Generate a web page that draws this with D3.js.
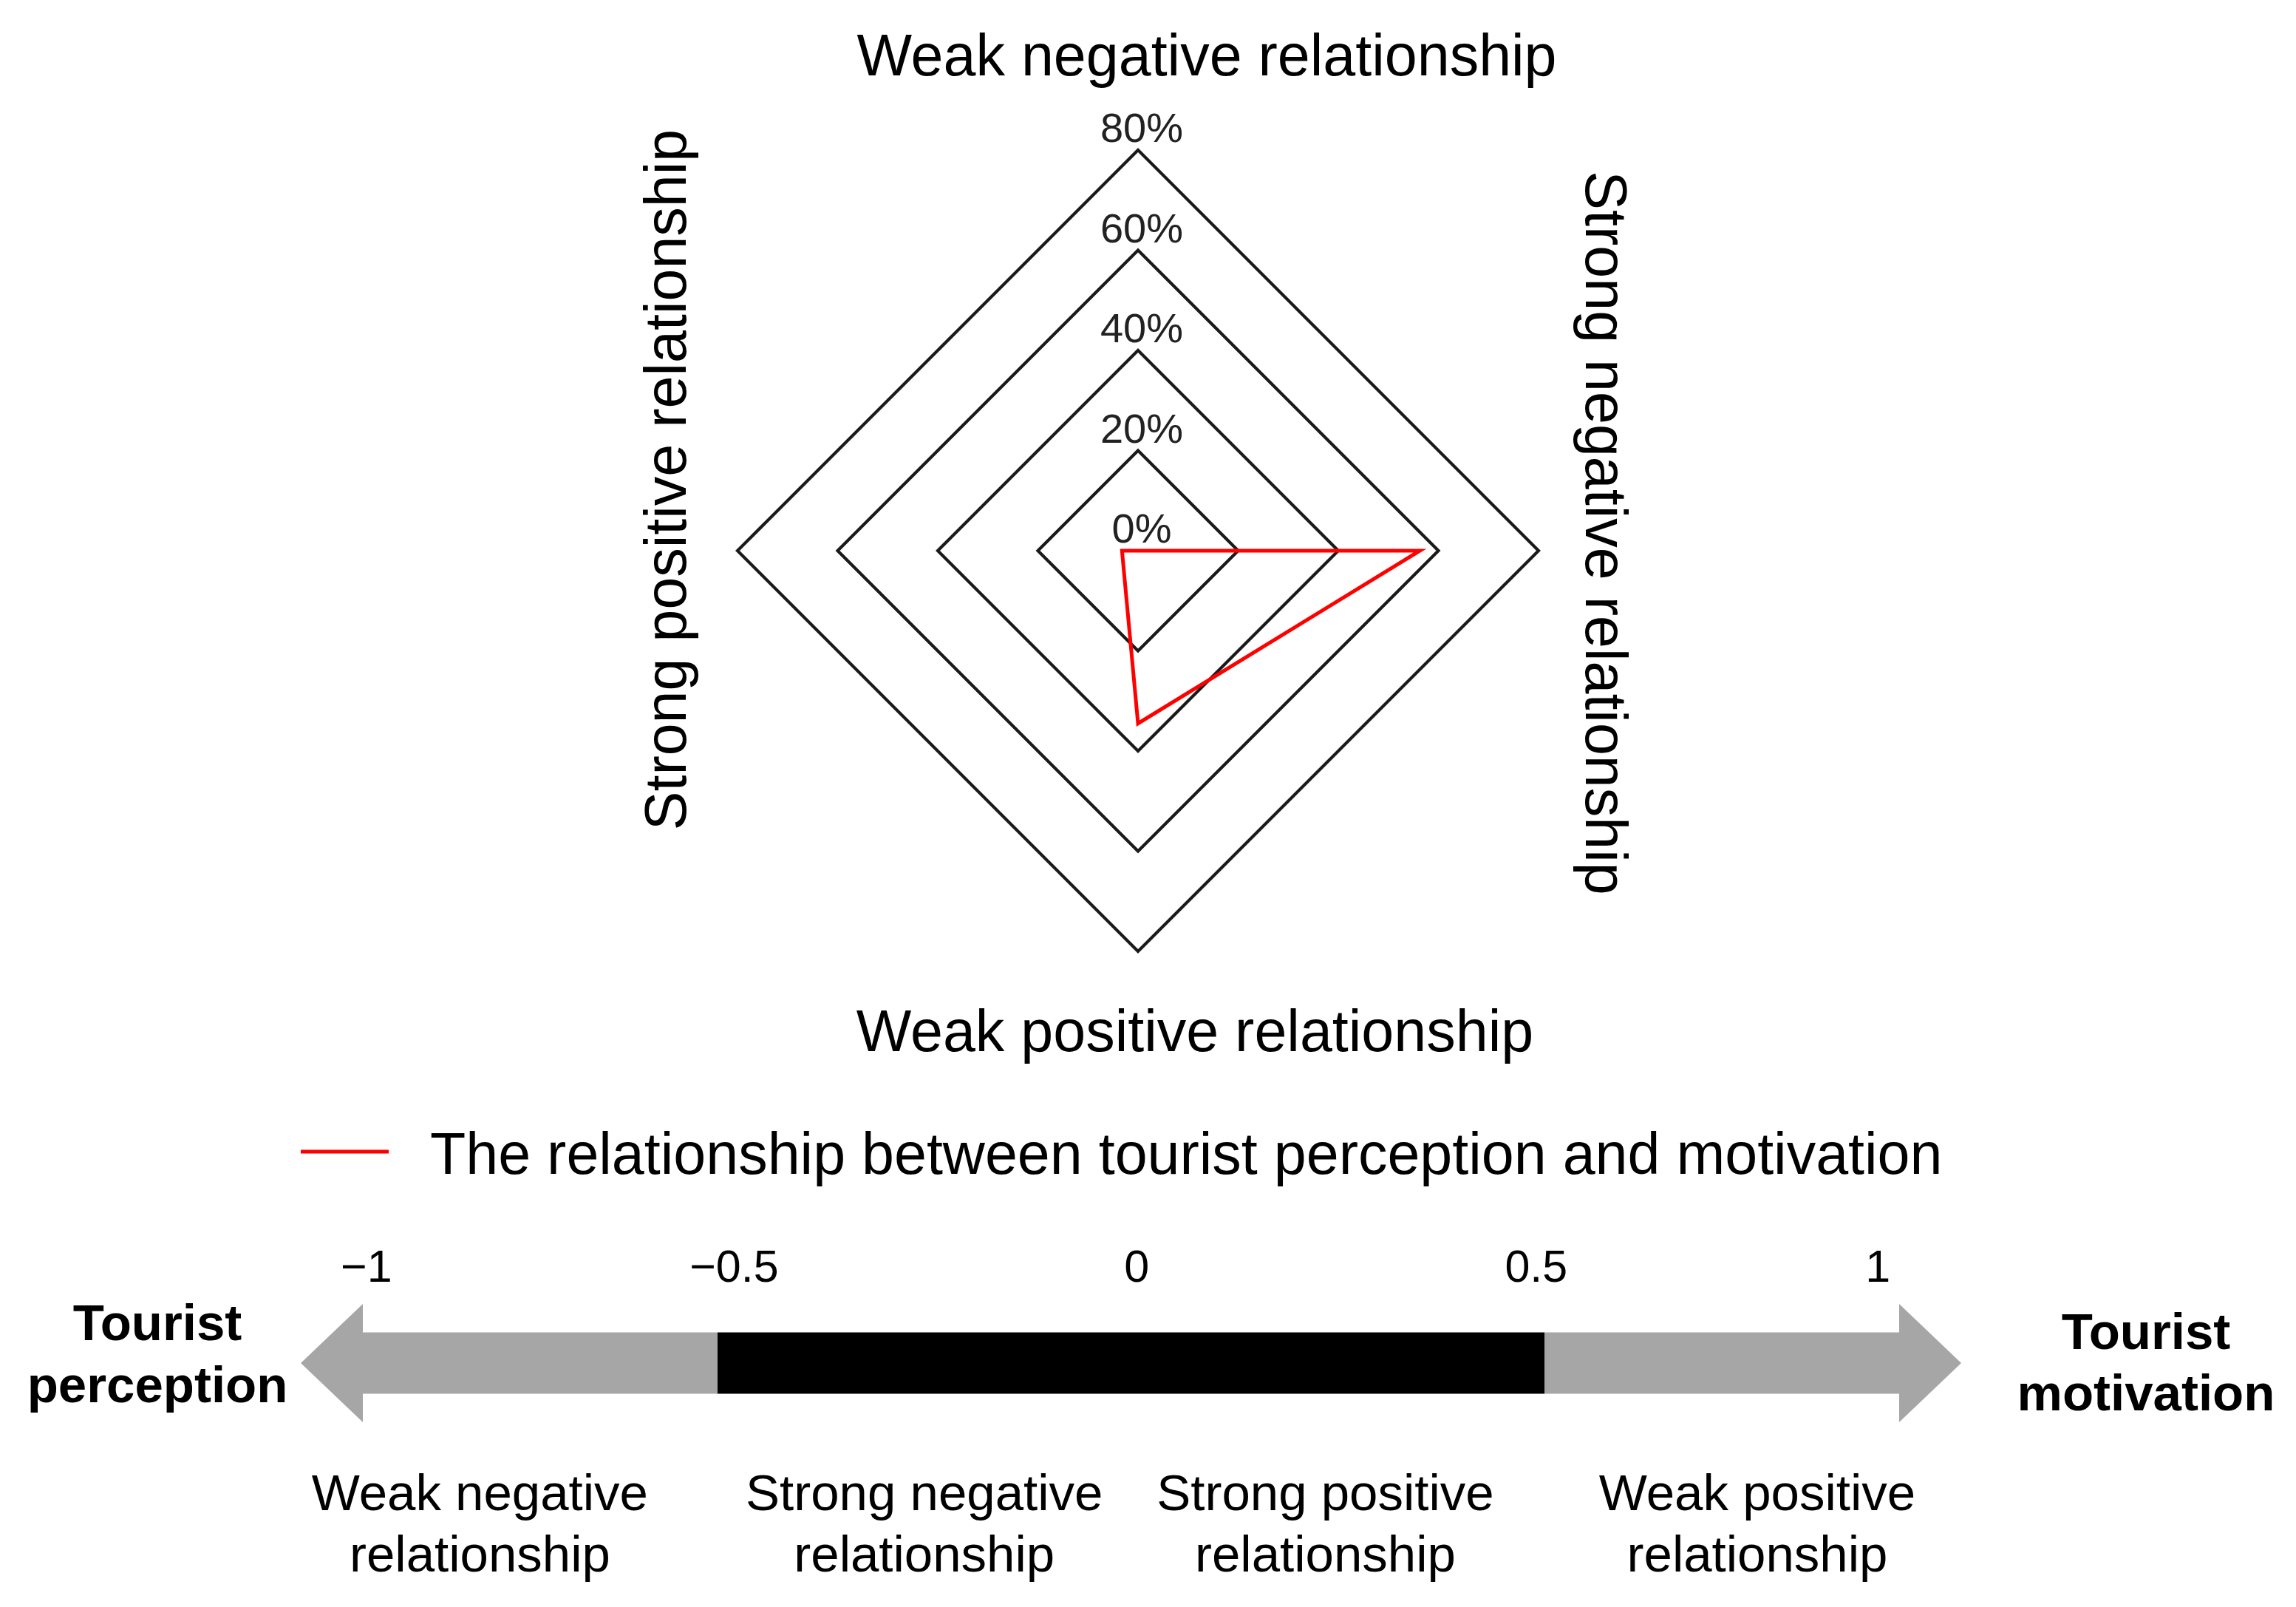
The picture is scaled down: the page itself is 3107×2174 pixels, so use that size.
<!DOCTYPE html>
<html><head><meta charset="utf-8">
<script src="https://cdn.jsdelivr.net/npm/d3@7"></script>
<style>html,body{margin:0;padding:0;background:#fff;} svg{display:block;}</style>
</head><body>
<script>
// ---- data ----
const axesNames = ["Weak negative relationship", "Strong negative relationship", "Weak positive relationship", "Strong positive relationship"];
const seriesValues = [0, 56.3, 34.5, 3.2];           // % per axis (top, right, bottom, left)
const gridLevels = [20, 40, 60, 80];
const levelLabelValues = [0, 20, 40, 60, 80];
const levelLabels = ["0%", "20%", "40%", "60%", "80%"];
const seriesName = "The relationship between tourist perception and motivation";
const scaleTicks = [-1, -0.5, 0, 0.5, 1];
const scaleTickLabels = ["\u22121", "\u22120.5", "0", "0.5", "1"];
const scaleTickLabelAt = [-0.995, -0.48, 0.007, 0.49, 0.97];
const bandLabels1 = ["Weak negative", "Strong negative", "Strong positive", "Weak positive"];
const bandLabels2 = ["relationship", "relationship", "relationship", "relationship"];
const bandLabelAt = [-0.835, -0.25, 0.235, 0.8];
const leftEndLabel = ["Tourist", "perception"];
const rightEndLabel = ["Tourist", "motivation"];

// ---- layout ----
const W = 3107, H = 2174;
const FONT = "'Liberation Sans', Arial, Helvetica, sans-serif";
const svg = d3.select("body").append("svg").attr("width", W).attr("height", H)
  .style("font-family", FONT);
svg.append("rect").attr("width", W).attr("height", H).attr("fill", "#fff");

// radar
const cx = 1540, cy = 745;
const r = d3.scaleLinear().domain([0, 80]).range([0, 542]);
const angle = d3.scalePoint().domain(d3.range(axesNames.length)).range([0, 2 * Math.PI * (axesNames.length - 1) / axesNames.length]);
const radar = svg.append("g").attr("transform", `translate(${cx},${cy})`);
const radial = d3.lineRadial().curve(d3.curveLinearClosed);

radar.selectAll("path.grid").data(gridLevels).join("path")
  .attr("class", "grid")
  .attr("d", lv => radial(axesNames.map((_, i) => [angle(i), r(lv)])))
  .attr("fill", "none").attr("stroke", "#1a1a1a").attr("stroke-width", 4.2)
  .attr("stroke-linejoin", "miter");

radar.append("path")
  .attr("d", radial(seriesValues.map((v, i) => [angle(i), r(v)])))
  .attr("fill", "none").attr("stroke", "#ff0000").attr("stroke-width", 5)
  .attr("stroke-linejoin", "miter");

radar.selectAll("text.lvl").data(levelLabelValues).join("text")
  .attr("class", "lvl")
  .attr("x", 5).attr("y", d => -r(d) - 11)
  .attr("text-anchor", "middle").attr("font-size", 56).attr("fill", "#222")
  .text((d, i) => levelLabels[i]);

// axis titles
svg.append("text").attr("x", 1633).attr("y", 102).attr("text-anchor", "middle")
  .attr("font-size", 79).attr("fill", "#000").text(axesNames[0]);
svg.append("text").attr("transform", "translate(2146,721) rotate(90)").attr("text-anchor", "middle")
  .attr("font-size", 79).attr("fill", "#000").text(axesNames[1]);
svg.append("text").attr("x", 1617).attr("y", 1422).attr("text-anchor", "middle")
  .attr("font-size", 79).attr("fill", "#000").text(axesNames[2]);
svg.append("text").attr("transform", "translate(928,649) rotate(-90)").attr("text-anchor", "middle")
  .attr("font-size", 79).attr("fill", "#000").text(axesNames[3]);

// legend
const lg = svg.append("g");
lg.append("line").attr("x1", 407).attr("x2", 526).attr("y1", 1558).attr("y2", 1558)
  .attr("stroke", "#ff0000").attr("stroke-width", 5);
lg.append("text").attr("x", 582).attr("y", 1588).attr("font-size", 79).attr("fill", "#000").text(seriesName);

// bottom scale arrow
const x = d3.scaleLinear().domain([-1, -0.5, 0.5, 1]).range([491, 971, 2090, 2570]);
const ay = 1844, bodyH = 41.5, headH = 80, headL = 84;
const gray = "#a6a6a6";
const arrowPath = (from, to, dir) => {
  const xb = x(from), xe = x(to);
  const tip = xb + dir * headL;
  const p = d3.path();
  p.moveTo(tip, ay);
  p.lineTo(xb, ay - headH); p.lineTo(xb, ay - bodyH); p.lineTo(xe, ay - bodyH);
  p.lineTo(xe, ay + bodyH); p.lineTo(xb, ay + bodyH); p.lineTo(xb, ay + headH);
  p.closePath();
  return p.toString();
};
svg.append("path").attr("d", arrowPath(-1, -0.5, -1)).attr("fill", gray);
svg.append("path").attr("d", arrowPath(1, 0.5, 1)).attr("fill", gray);
svg.append("rect").attr("x", x(-0.5)).attr("width", x(0.5) - x(-0.5))
  .attr("y", ay - bodyH).attr("height", 2 * bodyH).attr("fill", "#000");

svg.selectAll("text.tick").data(scaleTicks).join("text").attr("class", "tick")
  .attr("x", (d, i) => x(scaleTickLabelAt[i])).attr("y", 1734).attr("text-anchor", "middle")
  .attr("font-size", 61).attr("fill", "#000")
  .text((d, i) => scaleTickLabels[i]);

const bl = svg.selectAll("g.band").data(bandLabelAt).join("g").attr("class", "band");
bl.append("text").attr("x", d => x(d)).attr("y", 2043).attr("text-anchor", "middle")
  .attr("font-size", 69).attr("fill", "#000").text((d, i) => bandLabels1[i]);
bl.append("text").attr("x", d => x(d)).attr("y", 2126).attr("text-anchor", "middle")
  .attr("font-size", 69).attr("fill", "#000").text((d, i) => bandLabels2[i]);

const endL = svg.append("text").attr("text-anchor", "middle").attr("font-size", 69)
  .attr("font-weight", "bold").attr("fill", "#000");
endL.append("tspan").attr("x", 213).attr("y", 1813).text(leftEndLabel[0]);
endL.append("tspan").attr("x", 213).attr("y", 1897).text(leftEndLabel[1]);
const endR = svg.append("text").attr("text-anchor", "middle").attr("font-size", 69)
  .attr("font-weight", "bold").attr("fill", "#000");
endR.append("tspan").attr("x", 2904).attr("y", 1825).text(rightEndLabel[0]);
endR.append("tspan").attr("x", 2904).attr("y", 1908).text(rightEndLabel[1]);
</script>
</body></html>
